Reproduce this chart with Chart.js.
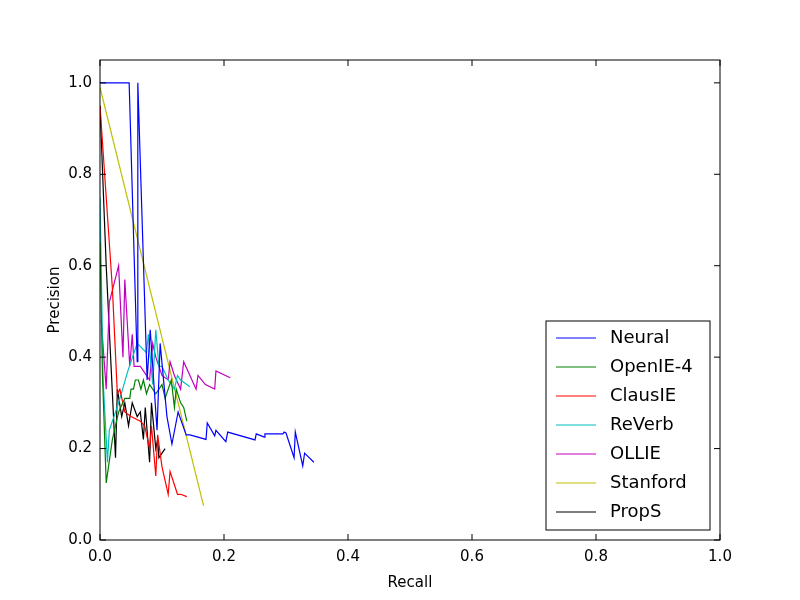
<!DOCTYPE html>
<html><head><meta charset="utf-8">
<script src="https://cdn.jsdelivr.net/npm/chart.js@4"></script>
<style>body{margin:0;background:#fff}#wrap{width:800px;height:600px}</style>
</head><body><div id="wrap"><canvas id="myChart"></canvas></div>
<script>
const seriesNames = ['Neural', 'OpenIE-4', 'ClausIE', 'ReVerb', 'OLLIE', 'Stanford', 'PropS'];
const seriesColors = ['#0000ff', '#008000', '#ff0000', '#00bfbf', '#bf00bf', '#bfbf00', '#000000'];

const neuralX = [0,0.047,0.06,0.061,0.076,0.081,0.092,0.097,0.108,0.116,0.126,0.139,0.145,0.171,0.173,0.185,0.187,0.203,0.206,0.25,0.252,0.265,0.266,0.295,0.297,0.3,0.313,0.315,0.327,0.33,0.345];
const neuralY = [1.0,1.0,0.39,1.0,0.35,0.46,0.24,0.43,0.27,0.21,0.28,0.23,0.23,0.22,0.256,0.228,0.24,0.215,0.236,0.219,0.232,0.225,0.232,0.232,0.236,0.234,0.18,0.236,0.162,0.19,0.17];
const openieX = [0,0.004,0.01,0.02,0.03,0.04,0.048,0.05,0.054,0.057,0.062,0.066,0.07,0.075,0.08,0.09,0.1,0.105,0.11,0.115,0.12,0.123,0.13,0.135,0.14];
const openieY = [0.65,0.36,0.125,0.22,0.28,0.31,0.31,0.33,0.33,0.35,0.35,0.33,0.35,0.32,0.34,0.32,0.34,0.31,0.33,0.35,0.29,0.33,0.3,0.29,0.26];
const clausieX = [0,0.02,0.028,0.032,0.04,0.05,0.065,0.072,0.08,0.083,0.09,0.093,0.1,0.11,0.113,0.125,0.13,0.14];
const clausieY = [0.95,0.55,0.32,0.33,0.28,0.27,0.26,0.25,0.2,0.25,0.14,0.23,0.16,0.1,0.15,0.1,0.1,0.095];
const reverbX = [0,0.005,0.012,0.015,0.03,0.045,0.06,0.075,0.078,0.085,0.09,0.095,0.1,0.11,0.12,0.125,0.13,0.14,0.145];
const reverbY = [0.75,0.35,0.17,0.24,0.3,0.37,0.43,0.41,0.45,0.34,0.46,0.38,0.38,0.35,0.33,0.36,0.35,0.34,0.335];
const ollieX = [0.002,0.01,0.015,0.03,0.037,0.04,0.048,0.052,0.055,0.065,0.07,0.08,0.085,0.09,0.1,0.11,0.113,0.12,0.13,0.135,0.145,0.155,0.158,0.17,0.185,0.187,0.21];
const ollieY = [0.48,0.33,0.52,0.6,0.4,0.57,0.38,0.45,0.38,0.38,0.37,0.35,0.43,0.4,0.36,0.35,0.39,0.36,0.33,0.39,0.36,0.33,0.36,0.34,0.33,0.37,0.355];
const stanfordX = [0,0.167];
const stanfordY = [0.99,0.075];
const propsX = [0,0.01,0.025,0.028,0.035,0.04,0.046,0.052,0.06,0.065,0.07,0.073,0.08,0.083,0.09,0.093,0.095,0.1,0.105];
const propsY = [0.95,0.6,0.18,0.33,0.27,0.3,0.25,0.3,0.27,0.28,0.22,0.29,0.17,0.3,0.2,0.22,0.18,0.19,0.2];

const xTicks = [0, 0.2, 0.4, 0.6, 0.8, 1.0];
const yTicks = [0, 0.2, 0.4, 0.6, 0.8, 1.0];

const allX = [neuralX, openieX, clausieX, reverbX, ollieX, stanfordX, propsX];
const allY = [neuralY, openieY, clausieY, reverbY, ollieY, stanfordY, propsY];

const datasets = seriesNames.map((name, i) => ({
  label: name,
  data: allX[i].map((x, j) => ({ x: x, y: allY[i][j] })),
  borderColor: seriesColors[i],
  backgroundColor: seriesColors[i],
  borderWidth: 1.2,
  pointRadius: 0,
  showLine: true,
  tension: 0
}));

// frame, inward ticks and legend box, matplotlib style
const framePlugin = {
  id: 'frame',
  afterDraw(chart) {
    const c = chart.ctx, a = chart.chartArea;
    const xs = chart.scales.x, ys = chart.scales.y;
    c.save();
    c.strokeStyle = '#000';
    c.lineWidth = 1;
    c.strokeRect(a.left, a.top, a.right - a.left, a.bottom - a.top);
    c.beginPath();
    xTicks.forEach(t => {
      const p = xs.getPixelForValue(t);
      c.moveTo(p, a.bottom); c.lineTo(p, a.bottom - 6);
      c.moveTo(p, a.top); c.lineTo(p, a.top + 6);
    });
    yTicks.forEach(t => {
      const p = ys.getPixelForValue(t);
      c.moveTo(a.left, p); c.lineTo(a.left + 6, p);
      c.moveTo(a.right, p); c.lineTo(a.right - 6, p);
    });
    c.stroke();
    // legend
    const lx = 546, ly = 321, lw = 164, lh = 209, rowH = 29;
    c.fillStyle = '#fff';
    c.fillRect(lx, ly, lw, lh);
    c.strokeRect(lx, ly, lw, lh);
    c.font = '18px "DejaVu Sans"';
    c.textBaseline = 'middle';
    seriesNames.forEach((n, i) => {
      const y = ly + 17 + i * rowH;
      c.strokeStyle = seriesColors[i];
      c.lineWidth = 1.2;
      c.beginPath(); c.moveTo(lx + 10, y); c.lineTo(lx + 50, y); c.stroke();
      c.fillStyle = '#000';
      c.fillText(n, lx + 64, y);
    });
    c.restore();
  }
};

const ctx = document.getElementById('myChart').getContext('2d');
new Chart(ctx, {
  type: 'scatter',
  data: { datasets: datasets },
  plugins: [framePlugin],
  options: {
    responsive: true,
    maintainAspectRatio: false,
    animation: false,
    layout: { padding: { top: 60, right: 80, left: 42, bottom: 0 } },
    plugins: { legend: { display: false }, tooltip: { enabled: false } },
    scales: {
      x: {
        type: 'linear', min: 0, max: 1.0,
        afterFit(s) { s.height = 60; },
        afterBuildTicks(s) { s.ticks = xTicks.map(v => ({ value: v })); },
        grid: { display: false, drawTicks: false },
        border: { display: false },
        ticks: { color: '#000', font: { family: 'DejaVu Sans', size: 15 }, padding: 8, callback: v => v.toFixed(1) },
        title: { display: true, text: 'Recall', color: '#000', font: { family: 'DejaVu Sans', size: 15 }, padding: { top: 6, bottom: 8 } }
      },
      y: {
        type: 'linear', min: 0, max: 1.05,
        afterFit(s) { s.width = 58; },
        afterBuildTicks(s) { s.ticks = yTicks.map(v => ({ value: v })); },
        grid: { display: false, drawTicks: false },
        border: { display: false },
        ticks: { color: '#000', font: { family: 'DejaVu Sans', size: 15 }, padding: 8, callback: v => v.toFixed(1) },
        title: { display: true, text: 'Precision', color: '#000', font: { family: 'DejaVu Sans', size: 15 }, padding: { bottom: 0 } }
      }
    }
  }
});
</script></body></html>
